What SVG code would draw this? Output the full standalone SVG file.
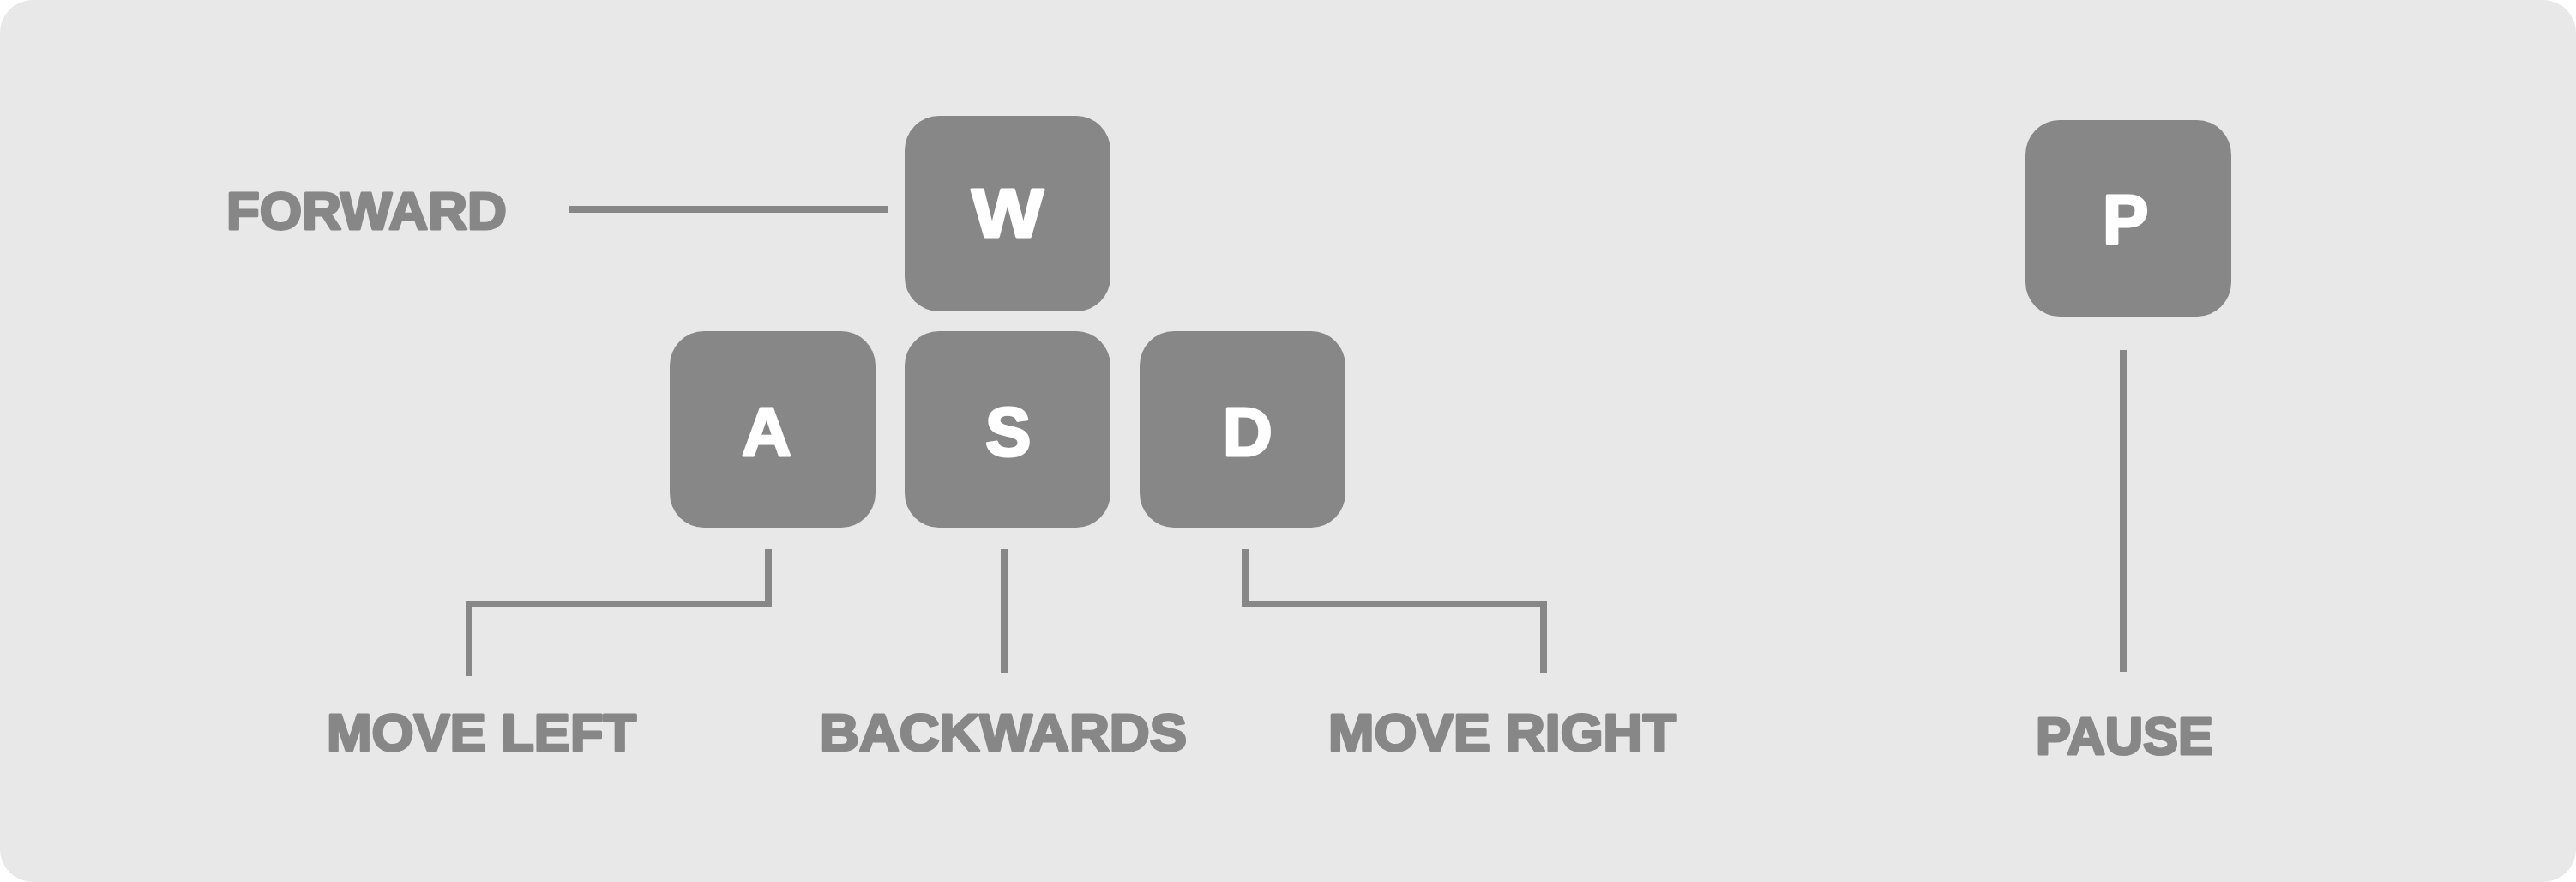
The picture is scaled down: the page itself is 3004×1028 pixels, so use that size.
<svg xmlns="http://www.w3.org/2000/svg" width="3004" height="1028" viewBox="0 0 3004 1028">
<style>
.key{fill:#878787}
.kl{fill:#ffffff;stroke:#ffffff;stroke-width:3;stroke-linejoin:round;font-family:"Liberation Sans",Arial,sans-serif;font-weight:bold;font-size:80px}
.lbl{fill:#878787;stroke:#878787;stroke-width:3;stroke-linejoin:round;font-family:"Liberation Sans",Arial,sans-serif;font-weight:bold;font-size:62px}
.con{fill:none;stroke:#878787;stroke-width:8;stroke-linecap:butt;stroke-linejoin:miter}
</style>
<rect x="0" y="0" width="3004" height="1028" fill="#ffffff"/>
<rect x="0" y="0" width="3004" height="1028" rx="38" ry="38" fill="#e8e8e8"/>
<g id="connectors">
<path class="con" d="M664 244 H1036"/>
<path class="con" d="M896 640 V704 H547 V788"/>
<path class="con" d="M1171 640 V784"/>
<path class="con" d="M1452 640 V704 H1800 V784"/>
<path class="con" d="M2476 408 V783"/>
</g>
<g id="key-w"><rect class="key" x="1055" y="135" width="240" height="228" rx="40"/><text class="kl" x="1133" y="276" textLength="84" lengthAdjust="spacingAndGlyphs">W</text></g>
<g id="key-a"><rect class="key" x="781" y="386" width="240" height="229" rx="40"/><text class="kl" x="865" y="531">A</text></g>
<g id="key-s"><rect class="key" x="1055" y="386" width="240" height="229" rx="40"/><text class="kl" x="1149" y="531">S</text></g>
<g id="key-d"><rect class="key" x="1329" y="386" width="240" height="229" rx="40"/><text class="kl" x="1426" y="531">D</text></g>
<g id="key-p"><rect class="key" x="2362" y="140" width="240" height="229" rx="40"/><text class="kl" x="2452" y="283">P</text></g>
<g id="label-forward"><text class="lbl" x="264" y="267" textLength="327" lengthAdjust="spacingAndGlyphs">FORWARD</text></g>
<g id="label-move-left"><text class="lbl" x="381" y="875" textLength="361" lengthAdjust="spacingAndGlyphs">MOVE LEFT</text></g>
<g id="label-backwards"><text class="lbl" x="955" y="875" textLength="429" lengthAdjust="spacingAndGlyphs">BACKWARDS</text></g>
<g id="label-move-right"><text class="lbl" x="1549" y="875" textLength="406" lengthAdjust="spacingAndGlyphs">MOVE RIGHT</text></g>
<g id="label-pause"><text class="lbl" x="2374" y="879" textLength="207" lengthAdjust="spacingAndGlyphs">PAUSE</text></g>
</svg>
